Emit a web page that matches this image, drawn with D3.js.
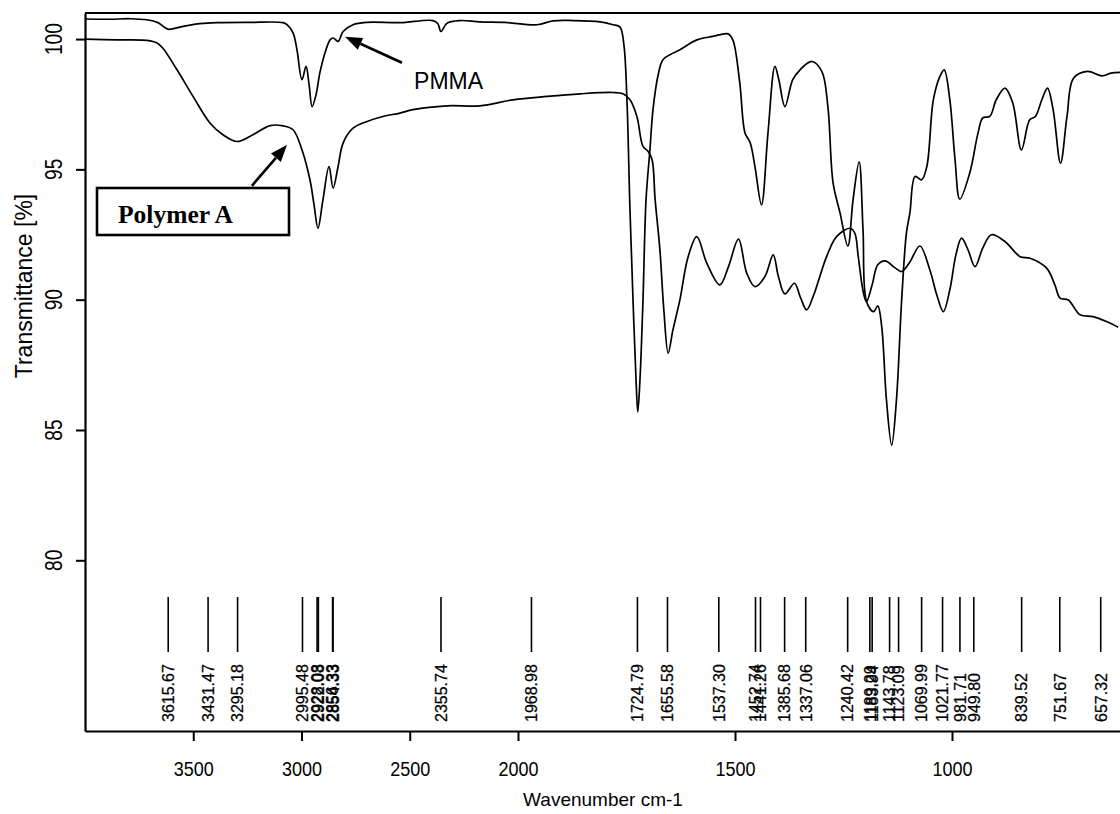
<!DOCTYPE html>
<html><head><meta charset="utf-8">
<script src="https://cdn.jsdelivr.net/npm/d3@7"></script>
<style>body{margin:0;background:#fff} svg{display:block}</style>
</head><body><svg id="c" width="1120" height="814"></svg>
<script>
// ---- data ----
const pmmaWn = [4000,3885,3792,3714,3663,3617,3552,3469,3390,3238,3085,3067,3039,3021,2998,2979,2965,2951,2933,2915,2887,2868,2854,2831,2808,2762,2697,2545,2393,2370,2356,2328,2268,2176,2060,1956,1919,1873,1811,1781,1765,1756,1749,1742,1735,1728,1724,1719,1712,1705,1696,1689,1677,1666,1643,1627,1588,1551,1516,1505,1489,1477,1465,1454,1439,1424,1408,1399,1385,1367,1350,1323,1300,1286,1274,1258,1240,1228,1214,1205,1197,1181,1171,1162,1151,1139,1128,1116,1105,1097,1085,1070,1058,1043,1028,1018,1005,993,982,959,940,929,913,898,878,860,840,821,808,793,780,767,750,735,720,688,654,634,611];
const pmmaT = [100.77,100.76,100.78,100.74,100.63,100.38,100.48,100.59,100.63,100.64,100.63,100.55,100.24,99.59,98.44,98.95,98.25,97.41,97.86,98.71,99.59,99.97,100.04,99.91,100.29,100.55,100.64,100.63,100.71,100.59,100.29,100.61,100.71,100.66,100.64,100.55,100.70,100.71,100.66,100.55,100.46,99.78,97.67,93.45,89.99,86.92,85.69,86.92,89.99,93.83,95.75,97.29,98.63,99.21,99.46,99.59,99.97,100.10,100.20,99.97,98.32,96.40,96.02,95.10,93.64,96.40,98.95,98.44,97.41,98.44,98.82,99.14,98.76,97.41,94.48,93.33,92.06,93.83,95.29,92.68,89.93,89.54,89.76,88.97,86.15,84.42,86.15,89.99,92.56,93.33,94.73,94.60,95.11,97.67,98.56,98.82,97.67,95.37,93.86,94.87,96.40,96.98,97.03,97.67,98.12,97.55,95.75,96.90,97.03,97.67,98.12,97.29,95.24,97.03,98.50,98.76,98.59,98.69,98.72];
const polyWn = [4000,3852,3714,3667,3640,3575,3501,3423,3363,3298,3224,3145,3085,3039,2998,2961,2942,2924,2901,2873,2854,2831,2808,2762,2697,2624,2545,2485,2328,2176,2023,1933,1857,1781,1758,1742,1726,1712,1700,1691,1684,1673,1664,1654,1643,1627,1608,1588,1565,1535,1515,1492,1473,1454,1431,1412,1400,1385,1363,1350,1335,1320,1289,1266,1235,1224,1216,1204,1197,1184,1171,1154,1131,1116,1097,1074,1051,1035,1020,1005,991,978,963,947,929,909,878,843,820,782,763,751,732,705,675,644,617];
const polyT = [100.0,99.97,99.95,99.85,99.65,98.82,97.80,96.78,96.33,96.07,96.33,96.68,96.67,96.52,95.75,94.60,93.64,92.74,93.83,95.11,94.28,95.11,96.01,96.58,96.84,97.03,97.16,97.29,97.44,97.44,97.67,97.80,97.90,97.95,97.90,97.67,97.03,95.88,95.69,95.37,93.83,91.91,89.61,87.95,88.84,89.99,91.65,92.42,91.40,90.57,91.27,92.32,91.02,90.50,90.89,91.72,90.89,90.22,90.63,90.12,89.61,90.12,91.65,92.42,92.74,92.55,91.65,90.25,89.93,90.57,91.34,91.49,91.22,91.08,91.45,92.06,91.14,90.18,89.54,90.38,91.72,92.36,91.91,91.27,91.99,92.49,92.23,91.65,91.59,91.21,90.57,90.06,89.99,89.42,89.35,89.16,88.94];
const peakLabels = ["3615.67","3431.47","3295.18","2995.48","2928.03","2922.08","2856.33","2854.33","2355.74","1968.98","1724.79","1655.58","1537.30","1452.74","1441.26","1385.68","1337.06","1240.42","1189.29","1183.94","1143.78","1123.09","1069.99","1021.77","981.71","949.80","839.52","751.67","657.32"];
const xTicks = [3500,3000,2500,2000,1500,1000];
const yTicks = [80,85,90,95,100];
const seriesNames = ["PMMA","Polymer A"];
const xTitle = "Wavenumber cm-1";
const yTitle = "Transmittance [%]";

// ---- layout ----
const svg = d3.select("#c");
const L = 85, T = 13, B = 731, R = 1120;
const x = d3.scaleLinear().domain([4000, 2000, 600]).range([L, 518, 518 + 1400 * 0.434]);
const y = d3.scaleLinear().domain([73.45, 101.0]).range([B, T]);
const SANS = "'Liberation Sans', Arial, Helvetica, sans-serif";
const SERIF = "'Liberation Serif', 'Times New Roman', serif";

function squeeze(sel, f) {
  sel.each(function () {
    const len = this.getComputedTextLength();
    d3.select(this).attr("textLength", len * f).attr("lengthAdjust", "spacingAndGlyphs");
  });
}

// frame
svg.append("line").attr("x1", L).attr("x2", R).attr("y1", T).attr("y2", T)
  .attr("stroke", "#000").attr("stroke-width", 2.2);

// x axis
const gx = svg.append("g").attr("transform", `translate(0,${B})`)
  .call(d3.axisBottom(x).tickValues(xTicks).tickSize(10).tickSizeOuter(0).tickPadding(21).tickFormat(d3.format("d")));
gx.select(".domain").attr("stroke", "#000").attr("stroke-width", 2.2);
gx.selectAll(".tick line").attr("stroke", "#000").attr("stroke-width", 2);
gx.selectAll(".tick text").attr("font-family", SANS).attr("font-size", 20).attr("fill", "#000");
squeeze(gx.selectAll(".tick text"), 0.9);

// y axis
const gy = svg.append("g").attr("transform", `translate(${L},0)`)
  .call(d3.axisLeft(y).tickValues(yTicks).tickSize(9).tickSizeOuter(0).tickFormat(""));
gy.select(".domain").attr("stroke", "#000").attr("stroke-width", 2.2);
gy.selectAll(".tick line").attr("stroke", "#000").attr("stroke-width", 2);
const yl = svg.append("g").selectAll("text").data(yTicks).join("text")
  .attr("transform", d => `translate(61.5,${y(d)}) rotate(-90)`)
  .attr("text-anchor", "middle")
  .attr("font-family", SANS).attr("font-size", 24).attr("fill", "#000")
  .text(d => d);
squeeze(yl, 0.8);

// titles
svg.append("text").attr("x", 603).attr("y", 806)
  .attr("text-anchor", "middle").attr("font-family", SANS).attr("font-size", 19)
  .text(xTitle);
svg.append("text").attr("transform", "translate(31.5,286) rotate(-90)")
  .attr("text-anchor", "middle").attr("font-family", SANS).attr("font-size", 23)
  .text(yTitle);

// curves
const line = d3.line().x(d => x(d[0])).y(d => y(d[1])).curve(d3.curveCatmullRom.alpha(0.5));
[d3.zip(pmmaWn, pmmaT), d3.zip(polyWn, polyT)].forEach(s => {
  svg.append("path").datum(s).attr("d", line)
    .attr("fill", "none").attr("stroke", "#000").attr("stroke-width", 1.7)
    .attr("stroke-linejoin", "round");
});

// peak markers
const peakTop = 597, peakBot = 652, labelBase = 722;
const gp = svg.append("g");
gp.selectAll("line").data(peakLabels).join("line")
  .attr("x1", d => x(+d)).attr("x2", d => x(+d))
  .attr("y1", peakTop).attr("y2", peakBot)
  .attr("stroke", "#000").attr("stroke-width", 1.6);
gp.selectAll("text").data(peakLabels).join("text")
  .attr("transform", d => `translate(${x(+d) + 5.8},${labelBase}) rotate(-90)`)
  .attr("text-anchor", "start")
  .attr("font-family", SANS).attr("font-size", 16).attr("fill", "#000")
  .attr("stroke", "#000").attr("stroke-width", 0.25)
  .text(d => d);

// annotations
function arrow(fromWn, fromT, toWn, toT) {
  const x0 = x(fromWn), y0 = y(fromT), x1 = x(toWn), y1 = y(toT);
  const a = Math.atan2(y1 - y0, x1 - x0), len = 17, hw = 6.5;
  const bx = x1 - len * Math.cos(a), by = y1 - len * Math.sin(a);
  svg.append("line").attr("x1", x0).attr("y1", y0).attr("x2", bx).attr("y2", by)
    .attr("stroke", "#000").attr("stroke-width", 2.6);
  const pts = [[x1, y1], [bx + hw * Math.sin(a), by - hw * Math.cos(a)], [bx - hw * Math.sin(a), by + hw * Math.cos(a)]];
  svg.append("polygon").attr("points", pts.map(p => p.join(",")).join(" ")).attr("fill", "#000");
}
arrow(2536, 99.09, 2799, 100.09);
svg.append("text").attr("x", x(2480)).attr("y", y(98.07))
  .attr("font-family", SANS).attr("font-size", 24).attr("fill", "#000")
  .attr("textLength", 69).attr("lengthAdjust", "spacingAndGlyphs")
  .text(seriesNames[0]);

arrow(3229, 94.37, 3067, 95.94);
svg.append("rect").attr("x", 97).attr("y", 188).attr("width", 192).attr("height", 47)
  .attr("fill", "#fff").attr("stroke", "#000").attr("stroke-width", 2.6);
svg.append("text").attr("x", 118).attr("y", 223)
  .attr("font-family", SERIF).attr("font-weight", "bold").attr("font-size", 25.5).attr("fill", "#000")
  .text(seriesNames[1]);
</script>
</body></html>
